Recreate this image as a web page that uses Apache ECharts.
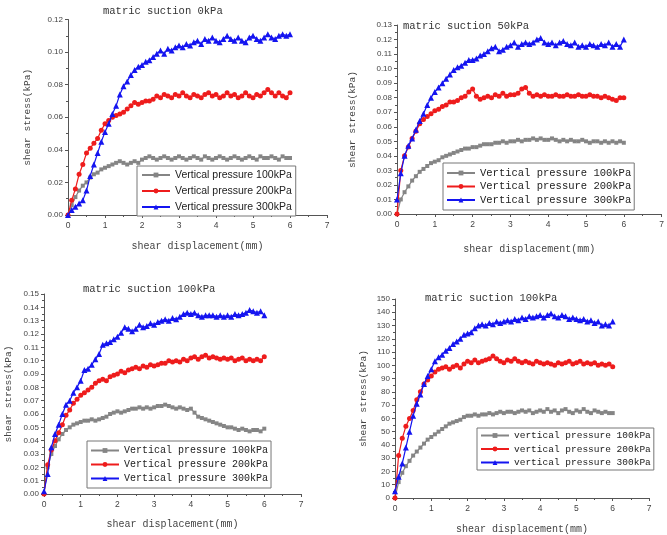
<!DOCTYPE html>
<html><head><meta charset="utf-8">
<script src="https://cdn.jsdelivr.net/npm/echarts@6/dist/echarts.min.js"></script>
<style>html,body{margin:0;padding:0;background:#fff}#c{width:667px;height:535px}</style>
</head><body><div id="c"></div>
<script>
// shear displacement (mm)
const xs = [0.0,0.1,0.2,0.3,0.4,0.5,0.6,0.7,0.8,0.9,1.0,1.1,1.2,1.3,1.4,1.5,1.6,1.7,1.8,1.9,2.0,2.1,2.2,2.3,2.4,2.5,2.6,2.7,2.8,2.9,3.0,3.1,3.2,3.3,3.4,3.5,3.6,3.7,3.8,3.9,4.0,4.1,4.2,4.3,4.4,4.5,4.6,4.7,4.8,4.9,5.0,5.1,5.2,5.3,5.4,5.5,5.6,5.7,5.8,5.9,6.0];

const panelTitles = ["matric suction 0kPa","matric suction 50kPa","matric suction 100kPa","matric suction 100kPa"];
const legendNamesA = ["Vertical pressure 100kPa","Vertical pressure 200kPa","Vertical pressure 300kPa"];
const legendNamesB = ["vertical pressure 100kPa","vertical pressure 200kPa","vertical pressure 300kPa"];
const xName = "shear displacement(mm)";
const yName = "shear stress(kPa)";

// Panel 1: matric suction 0kPa
const p1_100 = [0.000,0.006,0.011,0.015,0.018,0.020,0.023,0.025,0.026,0.028,0.029,0.030,0.031,0.032,0.033,0.032,0.031,0.032,0.033,0.032,0.034,0.035,0.036,0.035,0.034,0.035,0.036,0.035,0.034,0.035,0.036,0.035,0.034,0.035,0.036,0.035,0.034,0.036,0.035,0.034,0.035,0.036,0.035,0.034,0.035,0.036,0.035,0.034,0.035,0.036,0.035,0.034,0.036,0.035,0.035,0.036,0.035,0.034,0.036,0.035,0.035];
const p1_200 = [0.000,0.009,0.016,0.025,0.031,0.038,0.041,0.044,0.047,0.052,0.056,0.058,0.060,0.061,0.062,0.063,0.065,0.067,0.069,0.068,0.069,0.070,0.070,0.071,0.073,0.072,0.074,0.073,0.072,0.074,0.073,0.075,0.073,0.072,0.074,0.073,0.072,0.074,0.075,0.073,0.074,0.072,0.073,0.075,0.073,0.074,0.072,0.073,0.075,0.073,0.072,0.074,0.073,0.075,0.077,0.075,0.073,0.075,0.073,0.072,0.075];
const p1_300 = [0.000,0.003,0.005,0.007,0.009,0.015,0.024,0.031,0.038,0.045,0.051,0.056,0.062,0.067,0.074,0.079,0.082,0.086,0.089,0.091,0.092,0.094,0.095,0.097,0.099,0.101,0.099,0.102,0.101,0.103,0.104,0.103,0.105,0.104,0.106,0.107,0.105,0.108,0.107,0.109,0.107,0.106,0.108,0.110,0.108,0.107,0.109,0.107,0.106,0.109,0.110,0.108,0.107,0.109,0.111,0.109,0.108,0.110,0.111,0.110,0.111];

// Panel 2: matric suction 50kPa
const p2_100 = [0.000,0.010,0.015,0.019,0.023,0.026,0.029,0.031,0.033,0.035,0.036,0.037,0.039,0.040,0.041,0.042,0.043,0.044,0.045,0.045,0.046,0.046,0.047,0.048,0.048,0.048,0.049,0.049,0.050,0.049,0.050,0.050,0.051,0.050,0.051,0.051,0.052,0.051,0.052,0.051,0.051,0.052,0.051,0.050,0.051,0.050,0.051,0.050,0.050,0.051,0.050,0.049,0.050,0.050,0.049,0.050,0.049,0.050,0.049,0.050,0.049];
const p2_200 = [0.000,0.030,0.040,0.046,0.052,0.057,0.062,0.065,0.067,0.069,0.071,0.072,0.074,0.075,0.077,0.077,0.078,0.080,0.081,0.084,0.086,0.081,0.079,0.080,0.081,0.080,0.082,0.081,0.083,0.081,0.082,0.082,0.083,0.086,0.087,0.083,0.081,0.082,0.081,0.082,0.081,0.081,0.082,0.081,0.081,0.082,0.081,0.081,0.082,0.081,0.081,0.082,0.081,0.081,0.080,0.081,0.080,0.079,0.078,0.080,0.080];
const p2_300 = [0.010,0.028,0.040,0.047,0.052,0.058,0.064,0.069,0.075,0.080,0.084,0.087,0.090,0.093,0.096,0.099,0.101,0.102,0.104,0.106,0.106,0.107,0.109,0.110,0.112,0.114,0.115,0.112,0.113,0.115,0.116,0.118,0.115,0.117,0.118,0.117,0.118,0.120,0.121,0.118,0.117,0.118,0.116,0.118,0.119,0.117,0.116,0.118,0.115,0.116,0.115,0.117,0.116,0.115,0.117,0.116,0.118,0.115,0.117,0.115,0.120];

// Panel 3: matric suction 100kPa
const p3_100 = [0.000,0.020,0.030,0.036,0.041,0.045,0.048,0.050,0.052,0.053,0.054,0.055,0.055,0.056,0.055,0.056,0.057,0.058,0.060,0.061,0.062,0.061,0.062,0.063,0.064,0.064,0.065,0.064,0.065,0.064,0.065,0.066,0.066,0.067,0.066,0.065,0.064,0.065,0.064,0.063,0.064,0.061,0.058,0.057,0.056,0.055,0.054,0.053,0.052,0.051,0.050,0.050,0.049,0.048,0.049,0.048,0.047,0.048,0.048,0.047,0.049];
const p3_200 = [0.000,0.022,0.033,0.040,0.046,0.052,0.059,0.063,0.068,0.071,0.074,0.076,0.078,0.080,0.083,0.085,0.086,0.085,0.088,0.089,0.090,0.092,0.091,0.093,0.094,0.095,0.094,0.096,0.095,0.097,0.096,0.097,0.098,0.098,0.100,0.099,0.100,0.099,0.101,0.100,0.102,0.103,0.101,0.103,0.104,0.102,0.103,0.102,0.101,0.102,0.101,0.102,0.100,0.101,0.102,0.100,0.101,0.100,0.101,0.100,0.103];
const p3_300 = [0.002,0.015,0.035,0.045,0.052,0.060,0.067,0.070,0.076,0.080,0.085,0.093,0.094,0.097,0.101,0.105,0.112,0.113,0.114,0.116,0.118,0.121,0.125,0.124,0.122,0.124,0.127,0.125,0.126,0.128,0.127,0.129,0.130,0.131,0.130,0.132,0.131,0.133,0.135,0.136,0.135,0.136,0.134,0.133,0.134,0.134,0.134,0.133,0.134,0.133,0.134,0.133,0.135,0.134,0.135,0.136,0.138,0.137,0.136,0.137,0.134];

// Panel 4: matric suction 100kPa (kPa)
const p4_100 = [0,12,19,24,28,32,35,38,41,44,46,48,50,52,54,56,57,58,59,61,62,62,63,62,63,63,64,63,64,65,64,65,65,64,65,66,65,66,64,65,66,65,67,65,66,64,66,67,65,64,66,65,67,65,64,66,65,64,65,64,64];
const p4_200 = [0,32,45,54,60,66,74,80,86,89,92,95,97,98,99,97,99,100,98,101,103,102,104,102,103,104,105,107,105,103,102,104,103,105,103,102,103,102,101,103,102,101,102,101,100,102,101,102,103,101,102,103,101,102,101,102,100,101,100,101,99];
const p4_300 = [5,16,26,38,50,62,71,78,86,92,97,103,106,108,111,113,116,118,120,123,124,125,128,130,131,130,132,131,133,132,133,134,133,135,134,136,135,137,136,137,138,136,138,139,137,136,138,137,135,136,135,134,135,133,134,132,133,130,131,130,133];

const colors = ['#858585','#ee1c1c','#1414f0'];
const symbols = ['rect','circle','triangle'];
const symSizes = [4,5,6];

const grids = [
  {left:68, top:19.5, width:259, height:195.5},
  {left:397, top:25, width:268, height:189},
  {left:44, top:294, width:257, height:200},
  {left:395, top:299, width:254, height:201}
];
const yMax = [0.12,0.13,0.15,150];
const yInt = [0.02,0.01,0.01,10];
const yDec = [2,2,2,0];
const yNameGap = [36,40,31,27];
const xNameGap = [26,30,25,26];
const data = [[p1_100,p1_200,p1_300],[p2_100,p2_200,p2_300],[p3_100,p3_200,p3_300],[p4_100,p4_200,p4_300]];
const names = [legendNamesA,legendNamesA,legendNamesA,legendNamesB];

const axisCol = '#555';
const mono = '"Liberation Mono", "DejaVu Sans Mono", monospace';

const xAxis = grids.map((g,i)=>({
  type:'value', gridIndex:i, min:0, max:7, interval:1,
  name:xName, nameLocation:'middle', nameGap:xNameGap[i],
  nameTextStyle:{fontFamily:mono, fontSize:10, color:'#444'},
  axisLine:{show:true, lineStyle:{color:axisCol, width:1}},
  axisTick:{show:true, length:3, lineStyle:{color:axisCol}},
  minorTick:{show:true, splitNumber:2, length:2, lineStyle:{color:axisCol}},
  axisLabel:{fontFamily:'"Liberation Sans", Arial, sans-serif', fontSize:8.5, color:'#444', margin:6},
  splitLine:{show:false}
}));
const yAxis = grids.map((g,i)=>({
  type:'value', gridIndex:i, min:0, max:yMax[i], interval:yInt[i],
  name:yName, nameLocation:'middle', nameGap:yNameGap[i], nameRotate:90,
  nameTextStyle:{fontFamily:mono, fontSize:9.5, color:'#444'},
  axisLine:{show:true, lineStyle:{color:axisCol, width:1}},
  axisTick:{show:true, length:3, lineStyle:{color:axisCol}},
  minorTick:{show:true, splitNumber:2, length:2, lineStyle:{color:axisCol}},
  axisLabel:{fontFamily:'"Liberation Sans", Arial, sans-serif', fontSize:8, color:'#444', margin:5,
    formatter:(v)=>v.toFixed(yDec[i])},
  splitLine:{show:false}
}));

const series = [];
data.forEach((set,pi)=>{
  set.forEach((ys,si)=>{
    series.push({
      type:'line', name:names[pi][si], xAxisIndex:pi, yAxisIndex:pi,
      data: xs.map((x,k)=>[x, ys[k]]),
      symbol:symbols[si], symbolSize:symSizes[si], showSymbol:true,
      lineStyle:{color:colors[si], width:1.2},
      itemStyle:{color:colors[si]},
      animation:false, z:2+si
    });
  });
});

const titlePos = [{left:103,top:6},{left:403,top:21},{left:83,top:284},{left:425,top:293}];
const title = panelTitles.map((t,i)=>({
  text:t, left:titlePos[i].left, top:titlePos[i].top, padding:0,
  textStyle:{fontFamily:mono, fontSize:10.5, fontWeight:'normal', color:'#333'}
}));

const legendCfg = [
  {left:137, top:166, font:'"Liberation Sans", Arial, sans-serif', size:10.5, gap:5, ih:6, pad:[3.5,4,3.5,4]},
  {left:443, top:163, font:mono, size:10.5, gap:2.5, ih:6, pad:[4.5,3,4.5,3]},
  {left:87, top:441, font:mono, size:10, gap:4, ih:6, pad:[4.5,3,4.5,3]},
  {left:477, top:428, font:mono, size:9.5, gap:3.5, ih:6, pad:[2.5,3,2.5,3]}
];
const legend = legendCfg.map((c,i)=>({
  data:names[i], left:c.left, top:c.top, orient:'vertical', itemGap:c.gap,
  itemWidth:28, itemHeight:c.ih, padding:c.pad,
  borderColor:'#777', borderWidth:1, backgroundColor:'#fff',
  selectedMode:false,
  textStyle:{fontFamily:c.font, fontSize:c.size, color:'#222'}
}));

const chart = echarts.init(document.getElementById('c'), null, {renderer:'canvas'});
chart.setOption({
  animation:false, backgroundColor:'#fff',
  title, legend, grid:grids, xAxis, yAxis, series
});
</script></body></html>
